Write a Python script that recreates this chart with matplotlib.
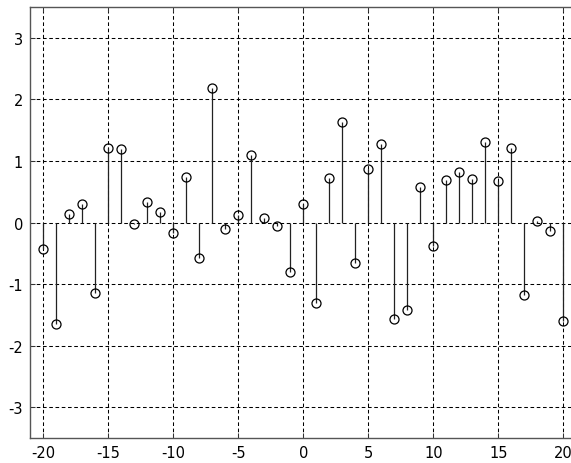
import numpy as np
import matplotlib
matplotlib.use("Agg")
import matplotlib.pyplot as plt

plt.rcParams['axes.unicode_minus'] = False

# sample index and values
n = np.arange(-20, 21)
values = [-0.43, -1.65, 0.14, 0.30, -1.14, 1.21, 1.20, -0.02, 0.33, 0.18,
          -0.17, 0.74, -0.57, 2.19, -0.11, 0.12, 1.09, 0.07, -0.06, -0.80,
          0.31, -1.31, 0.72, 1.64, -0.66, 0.87, 1.27, -1.56, -1.42, 0.58,
          -0.38, 0.70, 0.82, 0.71, 1.31, 0.68, 1.21, -1.18, 0.02, -0.13,
          -1.59]
yticks = [-3, -2, -1, 0, 1, 2, 3]
xticks = [-20, -15, -10, -5, 0, 5, 10, 15, 20]

fig = plt.figure(figsize=(5.71, 4.64), dpi=100)
ax = fig.add_axes([30 / 571, 24.7 / 464, 546.5 / 571, 431.3 / 464])

markerline, stemlines, baseline = ax.stem(n, values, basefmt=" ")
plt.setp(stemlines, color="#222222", linewidth=0.9)
plt.setp(markerline, marker="o", markersize=6.5, markerfacecolor="none",
         markeredgecolor="black", markeredgewidth=0.9)

ax.set_xlim(-21, 21)
ax.set_ylim(-3.5, 3.5)
ax.set_xticks(xticks)
ax.set_yticks(yticks)

ax.grid(True, color="black", linestyle=(0, (3.5, 2.5)), linewidth=0.75)
ax.set_axisbelow(True)
ax.tick_params(direction="in", length=3.6, width=0.75, top=True, right=True,
               labelsize=10.5, pad=5, colors="#333333", labelcolor="black")
for s in ax.spines.values():
    s.set_color("#555555")
    s.set_linewidth(1.0)

fig.savefig("out.png", dpi=100)
